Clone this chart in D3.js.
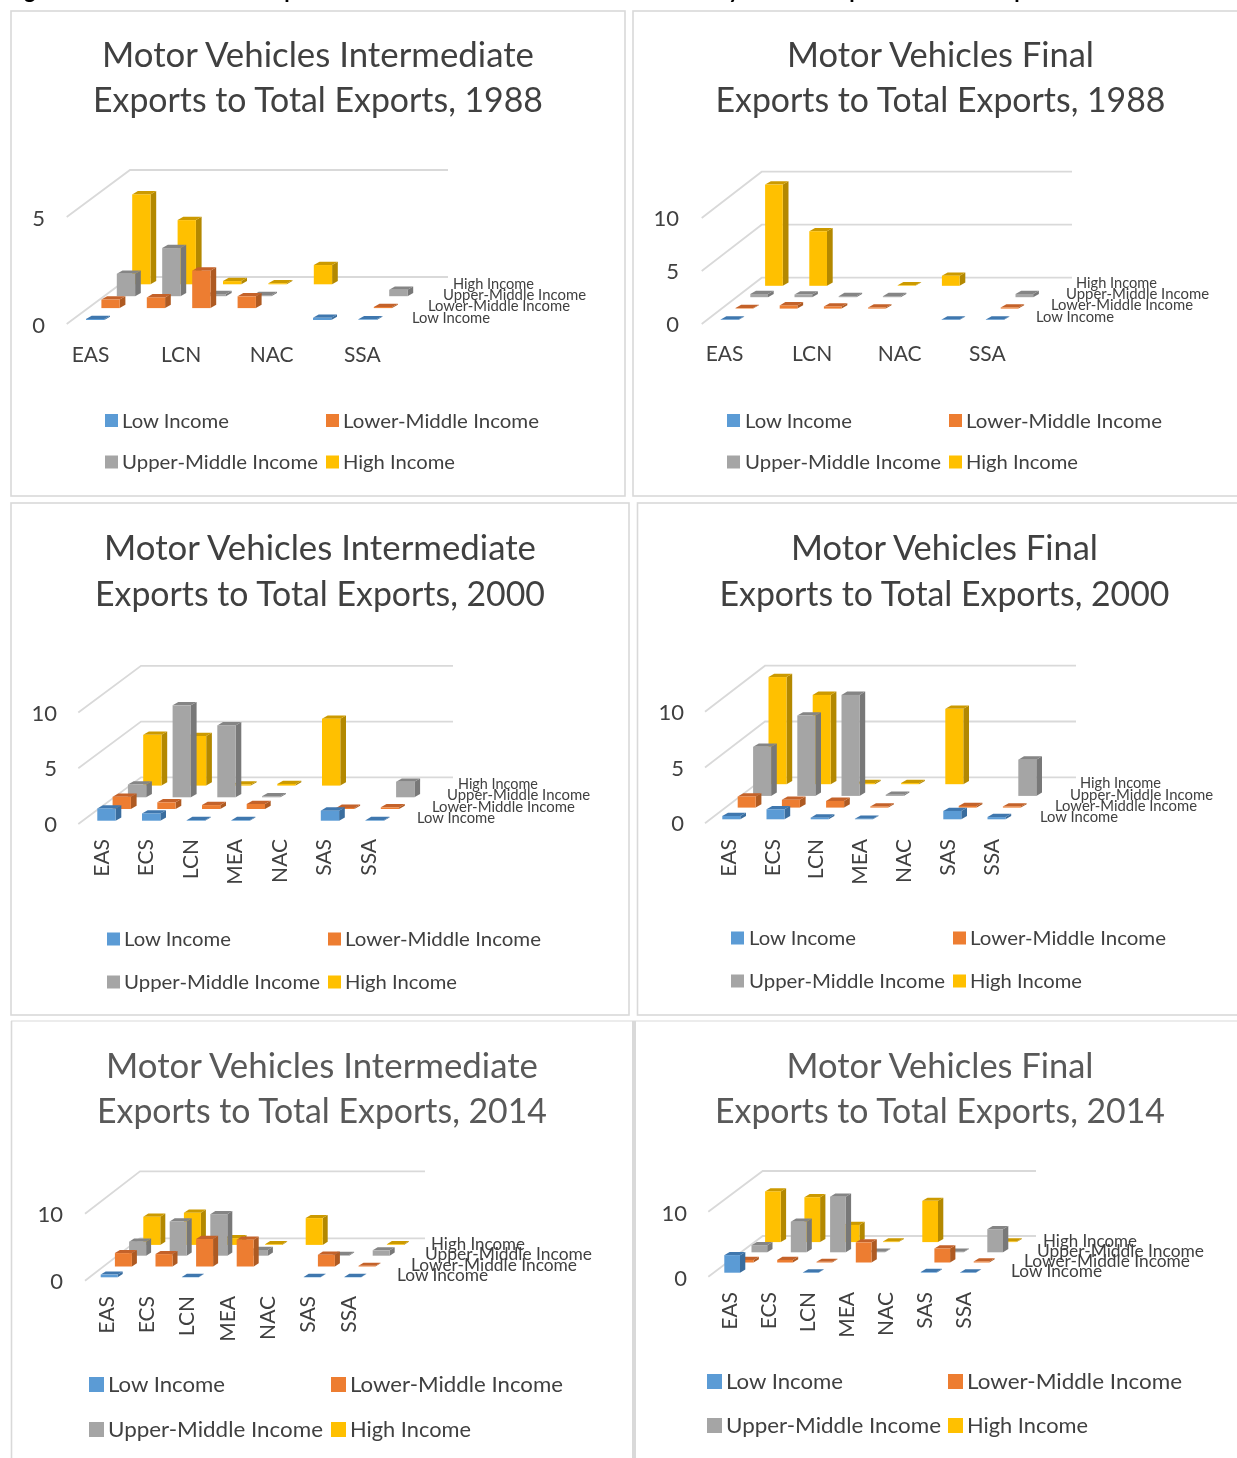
<!DOCTYPE html>
<html><head><meta charset="utf-8">
<script src="https://cdnjs.cloudflare.com/ajax/libs/d3/7.8.5/d3.min.js"></script>
<style>
html,body{margin:0;padding:0;background:#fff;overflow:hidden}
svg{display:block;filter:blur(0.35px)}
text{font-family:Lato,"Open Sans",sans-serif}
</style></head><body>
<svg id="c" width="1237" height="1458"></svg>
<script>
const categories = ["EAS","ECS","LCN","MEA","NAC","SAS","SSA"];
const seriesNames = ["Low Income","Lower-Middle Income","Upper-Middle Income","High Income"];
const seriesColors = ["#5B9BD5","#ED7D31","#A5A5A5","#FFC000"];
const seriesTops = ["#3F77AE","#C4622A","#858585","#CC9A00"];
const seriesSides = ["#3A6D9E","#AE5A22","#787878","#B38800"];

// Values, in category order
const inter1988Low   = [0.05,0,0,0,0,0.1,0.03];
const inter1988Lower = [0.4,0.5,1.75,0.55,0,0,0.05];
const inter1988Upper = [1.05,2.25,0.1,0.05,0,0,0.3];
const inter1988High  = [4.2,3.0,0.15,0.05,0.9,0,0];

const final1988Low   = [0.05,0,0,0,0,0.05,0.05];
const final1988Lower = [0.05,0.3,0.2,0.1,0,0,0.1];
const final1988Upper = [0.3,0.25,0.1,0.1,0,0,0.3];
const final1988High  = [9.55,5.15,0,0.05,0.95,0,0];

const inter2000Low   = [1.1,0.65,0.05,0.05,0,0.9,0.05];
const inter2000Lower = [1.1,0.6,0.35,0.45,0,0.1,0.15];
const inter2000Upper = [1.15,8.25,6.45,0.1,0,0,1.4];
const inter2000High  = [4.55,4.45,0.1,0.15,6.0,0,0];

const final2000Low   = [0.3,0.9,0.15,0.05,0,0.75,0.2];
const final2000Lower = [1.0,0.7,0.6,0.1,0,0.15,0.1];
const final2000Upper = [4.4,7.2,9.05,0.1,0,0,3.25];
const final2000High  = [9.6,8.0,0.1,0.1,6.75,0,0];

const inter2014Low   = [0.4,0,0.05,0,0,0.05,0.05];
const inter2014Lower = [2.0,1.85,4.1,4.0,0,1.75,0.1];
const inter2014Upper = [2.1,5.1,6.2,0.85,0,0.1,0.8];
const inter2014High  = [4.2,4.8,1.0,0.1,4.0,0,0.1];

const final2014Low   = [2.7,0,0.05,0,0,0.1,0.05];
const final2014Lower = [0.4,0.4,0.1,3.1,0,2.15,0.15];
const final2014Upper = [1.1,4.7,8.55,0.1,0,0.1,3.55];
const final2014High  = [7.8,6.9,2.65,0.1,6.35,0,0.1];

const titleLine1Inter = "Motor Vehicles Intermediate";
const titleLine1Final = "Motor Vehicles Final";
const titleLine2 = y => "Exports to Total Exports, " + y;

// Panel layout (pixels only)
const panels = [
 {data:[inter1988Low,inter1988Lower,inter1988Upper,inter1988High],t1:titleLine1Inter,year:1988,tc:318,tw1:432,ty:[67,112],tcol:"#404040",
  fx:66.7,fy:324,bx:130,by:277,rx:448,max:5,H:107,ticks:[0,5],tickDy:1,lowX:86,lowY:320,step:45.4,dx:15.4,dy:11.9,w:18.3,ox:5.7,oy:3.3,
  tickX:45,catX:90,catStep:45.3,catY:354.5,rot:false,
  depth:[[412,78,318],[428,142,306],[443,143,295],[453,81,284]],dfs:14.5,
  leg:{sq:[105,326],tx:[122,343],y:[420.5,462],s:13,fs:20,w:[107,196,196,112]}},
 {data:[final1988Low,final1988Lower,final1988Upper,final1988High],t1:titleLine1Final,year:1988,tc:940.5,tw1:307,ty:[67,112],tcol:"#404040",
  fx:701.7,fy:324,bx:761.7,by:277.7,rx:1072,max:10,H:106,ticks:[0,5,10],tickDy:0,lowX:720.7,lowY:320,step:44.2,dx:14.8,dy:11.4,w:17.7,ox:5.7,oy:3.3,
  tickX:679,catX:724,catStep:43.8,catY:353.5,rot:false,
  depth:[[1036,78,317],[1051,142,305],[1066,143,294],[1076,81,283]],dfs:14.5,
  leg:{sq:[727,949],tx:[745,966],y:[420.5,462],s:13,fs:20,w:[107,196,196,112]}},
 {data:[inter2000Low,inter2000Lower,inter2000Upper,inter2000High],t1:titleLine1Inter,year:2000,tc:320,tw1:432,ty:[560,606],tcol:"#404040",
  fx:78.3,fy:824,bx:141,by:777.3,rx:453,max:10,H:111.5,ticks:[0,5,10],tickDy:0.5,lowX:97.3,lowY:820.7,step:44.7,dx:15.3,dy:11.7,w:18.3,ox:5.7,oy:3.3,
  tickX:57,catX:101,catStep:44.5,catY:839,rot:true,
  depth:[[417,78,818],[432,143,807],[447,143,795],[458,80,784]],dfs:14.5,
  leg:{sq:[107,328],tx:[124,345],y:[939,982],s:13,fs:20,w:[107,196,196,112]}},
 {data:[final2000Low,final2000Lower,final2000Upper,final2000High],t1:titleLine1Final,year:2000,tc:944.5,tw1:307,ty:[560,606],tcol:"#404040",
  fx:705,fy:823.3,bx:765,by:777.3,rx:1076,max:10,H:111.6,ticks:[0,5,10],tickDy:0.5,lowX:722.3,lowY:819.3,step:44.2,dx:15.4,dy:11.7,w:18,ox:5.7,oy:3.3,
  tickX:684,catX:728,catStep:43.8,catY:839,rot:true,
  depth:[[1040,78,817],[1055,142,806],[1070,143,795],[1080,81,783]],dfs:14.5,
  leg:{sq:[731,953],tx:[749,970],y:[938,981],s:13,fs:20,w:[107,196,196,112]}},
 {data:[inter2014Low,inter2014Lower,inter2014Upper,inter2014High],t1:titleLine1Inter,year:2014,tc:322,tw1:432,ty:[1078,1123],tcol:"#595959",
  fx:85,fy:1280.7,bx:140,by:1238.3,rx:425,max:10,H:67,ticks:[0,10],tickDy:1,lowX:100.7,lowY:1277.3,step:40.6,dx:14.2,dy:10.8,w:17,ox:5,oy:3.2,
  tickX:63,catX:106,catStep:40.3,catY:1296,rot:true,
  depth:[[397,91,1275],[411,166,1265],[425,167,1254],[431,94,1244]],dfs:17.5,
  leg:{sq:[89,331],tx:[108,350],y:[1384.5,1429.5],s:15,fs:22,w:[117,213,215,121]}},
 {data:[final2014Low,final2014Lower,final2014Upper,final2014High],t1:titleLine1Final,year:2014,tc:940,tw1:307,ty:[1078,1123],tcol:"#595959",
  fx:708.3,fy:1276.7,bx:762.7,by:1236,rx:1036,max:10,H:65,ticks:[0,10],tickDy:1.5,lowX:724.3,lowY:1272.7,step:39.3,dx:13.6,dy:10.2,w:15.7,ox:5.3,oy:3.2,
  tickX:687,catX:729,catStep:39,catY:1292,rot:true,
  depth:[[1011,91,1271],[1024,166,1261],[1037,167,1251],[1043,94,1241]],dfs:17.5,
  leg:{sq:[707,948],tx:[726,967],y:[1381.5,1425.5],s:15,fs:22,w:[117,215,215,121]}}
];

const svg = d3.select("#c");
const fit = (sel,w)=> w ? sel.attr("textLength",w).attr("lengthAdjust","spacingAndGlyphs") : sel;

// clipped page heading (only descenders show)
[["Figure",6],["Exports",260],["by",716],["Exports",825],["Exports",990]].forEach(([t,x])=>{
  svg.append("text").attr("x",x).attr("y",-2).attr("font-size",22).attr("font-weight",700).attr("fill","#000").text(t);
});

// frames
const frameCol="#d9d9d9";
[[11,11,614,485],[633,11,640,485],[11,503,618,512],[637.5,503,640,512]].forEach(([x,y,w,h])=>{
  svg.append("rect").attr("x",x).attr("y",y).attr("width",w).attr("height",h).attr("fill","#fff").attr("stroke",frameCol).attr("stroke-width",1.6);
});
svg.append("line").attr("x1",11).attr("x2",1237).attr("y1",1021).attr("y2",1021).attr("stroke",frameCol).attr("stroke-width",1.2);
svg.append("line").attr("x1",11.5).attr("x2",11.5).attr("y1",1021).attr("y2",1458).attr("stroke",frameCol).attr("stroke-width",1.6);
svg.append("line").attr("x1",634).attr("x2",634).attr("y1",1021).attr("y2",1458).attr("stroke",frameCol).attr("stroke-width",4);

panels.forEach(p=>{
  const g = svg.append("g");
  // title
  [[p.t1,p.tw1],[titleLine2(p.year),450]].forEach(([t,w],i)=>{
    fit(g.append("text").attr("x",p.tc).attr("y",p.ty[i]).attr("text-anchor","middle")
      .attr("font-size",34).attr("fill",p.tcol).text(t),w);
  });

  const hScale = d3.scaleLinear().domain([0,p.max]).range([0,p.H]);
  const yFront = d3.scaleLinear().domain([0,p.max]).range([p.fy,p.fy-p.H]);
  const xCat = d3.scalePoint().domain(categories).range([p.lowX,p.lowX+6*p.step]);
  const depthX = d3.scalePoint().domain(seriesNames).range([0,3*p.dx]);
  const depthY = d3.scalePoint().domain(seriesNames).range([0,3*p.dy]);

  // gridlines in perspective
  p.ticks.forEach(v=>{
    const h=hScale(v);
    g.append("polyline").attr("fill","none").attr("stroke","#d9d9d9").attr("stroke-width",1.8)
     .attr("points",[[p.fx,p.fy-h],[p.bx,p.by-h],[p.rx,p.by-h]].map(a=>a.join(",")).join(" "));
  });

  // value axis labels
  const ax = g.append("g").attr("transform",`translate(${p.tickX},${p.tickDy})`)
    .call(d3.axisLeft(yFront).tickValues(p.ticks).tickSize(0).tickPadding(0).tickFormat(d3.format("d")));
  ax.select(".domain").remove();
  ax.selectAll("text").attr("font-size",22).attr("fill","#404040").attr("font-family","Lato,sans-serif");

  // category axis labels
  const xLab = d3.scalePoint().domain(categories).range([p.catX,p.catX+6*p.catStep]);
  const cg = g.append("g").attr("transform",`translate(0,${p.catY})`)
    .call(d3.axisBottom(xLab).tickSize(0).tickPadding(0).tickValues(p.rot?categories:categories.filter((c,i)=>i%2===0)));
  cg.select(".domain").remove();
  cg.selectAll("text").attr("font-size",p.rot?21:21).attr("fill","#404040").attr("font-family","Lato,sans-serif");
  if(p.rot){
    cg.selectAll("text").attr("transform","rotate(-90)").attr("text-anchor","end").attr("x",0).attr("y",0).attr("dy","0.35em");
  } else {
    cg.selectAll("text").attr("y",0).attr("dy","0.35em");
  }

  // bars, back series first
  d3.range(3,-1,-1).forEach(si=>{
    const name=seriesNames[si];
    const rows=categories.map((c,i)=>({c,v:p.data[si][i]})).filter(d=>d.v>0);
    const sg=g.append("g");
    rows.forEach(d=>{
      const x0=xCat(d.c)+depthX(name), yb=p.lowY-depthY(name), h=hScale(d.v), yt=yb-h, w=p.w;
      sg.append("path").attr("fill",seriesSides[si])
        .attr("d",`M${x0+w},${yb}L${x0+w+p.ox},${yb-p.oy}L${x0+w+p.ox},${yt-p.oy}L${x0+w},${yt}Z`);
      sg.append("path").attr("fill",seriesTops[si])
        .attr("d",`M${x0},${yt}L${x0+p.ox},${yt-p.oy}L${x0+w+p.ox},${yt-p.oy}L${x0+w},${yt}Z`);
      sg.append("rect").attr("x",x0).attr("y",yt).attr("width",w).attr("height",h).attr("fill",seriesColors[si]);
    });
  });

  // depth axis labels
  seriesNames.forEach((s,i)=>{
    const [x,w,y]=p.depth[i];
    fit(g.append("text").attr("x",x).attr("y",y).attr("dy","0.35em").attr("font-size",p.dfs).attr("fill","#404040").text(s),w);
  });

  // legend
  seriesNames.forEach((s,i)=>{
    const col=i%2,row=i>>1,l=p.leg;
    g.append("rect").attr("x",l.sq[col]).attr("y",l.y[row]-l.s/2).attr("width",l.s).attr("height",l.s).attr("fill",seriesColors[i]);
    fit(g.append("text").attr("x",l.tx[col]).attr("y",l.y[row]).attr("dy","0.35em").attr("font-size",l.fs).attr("fill","#404040").text(s),l.w[i]);
  });
});
</script>
</body></html>
